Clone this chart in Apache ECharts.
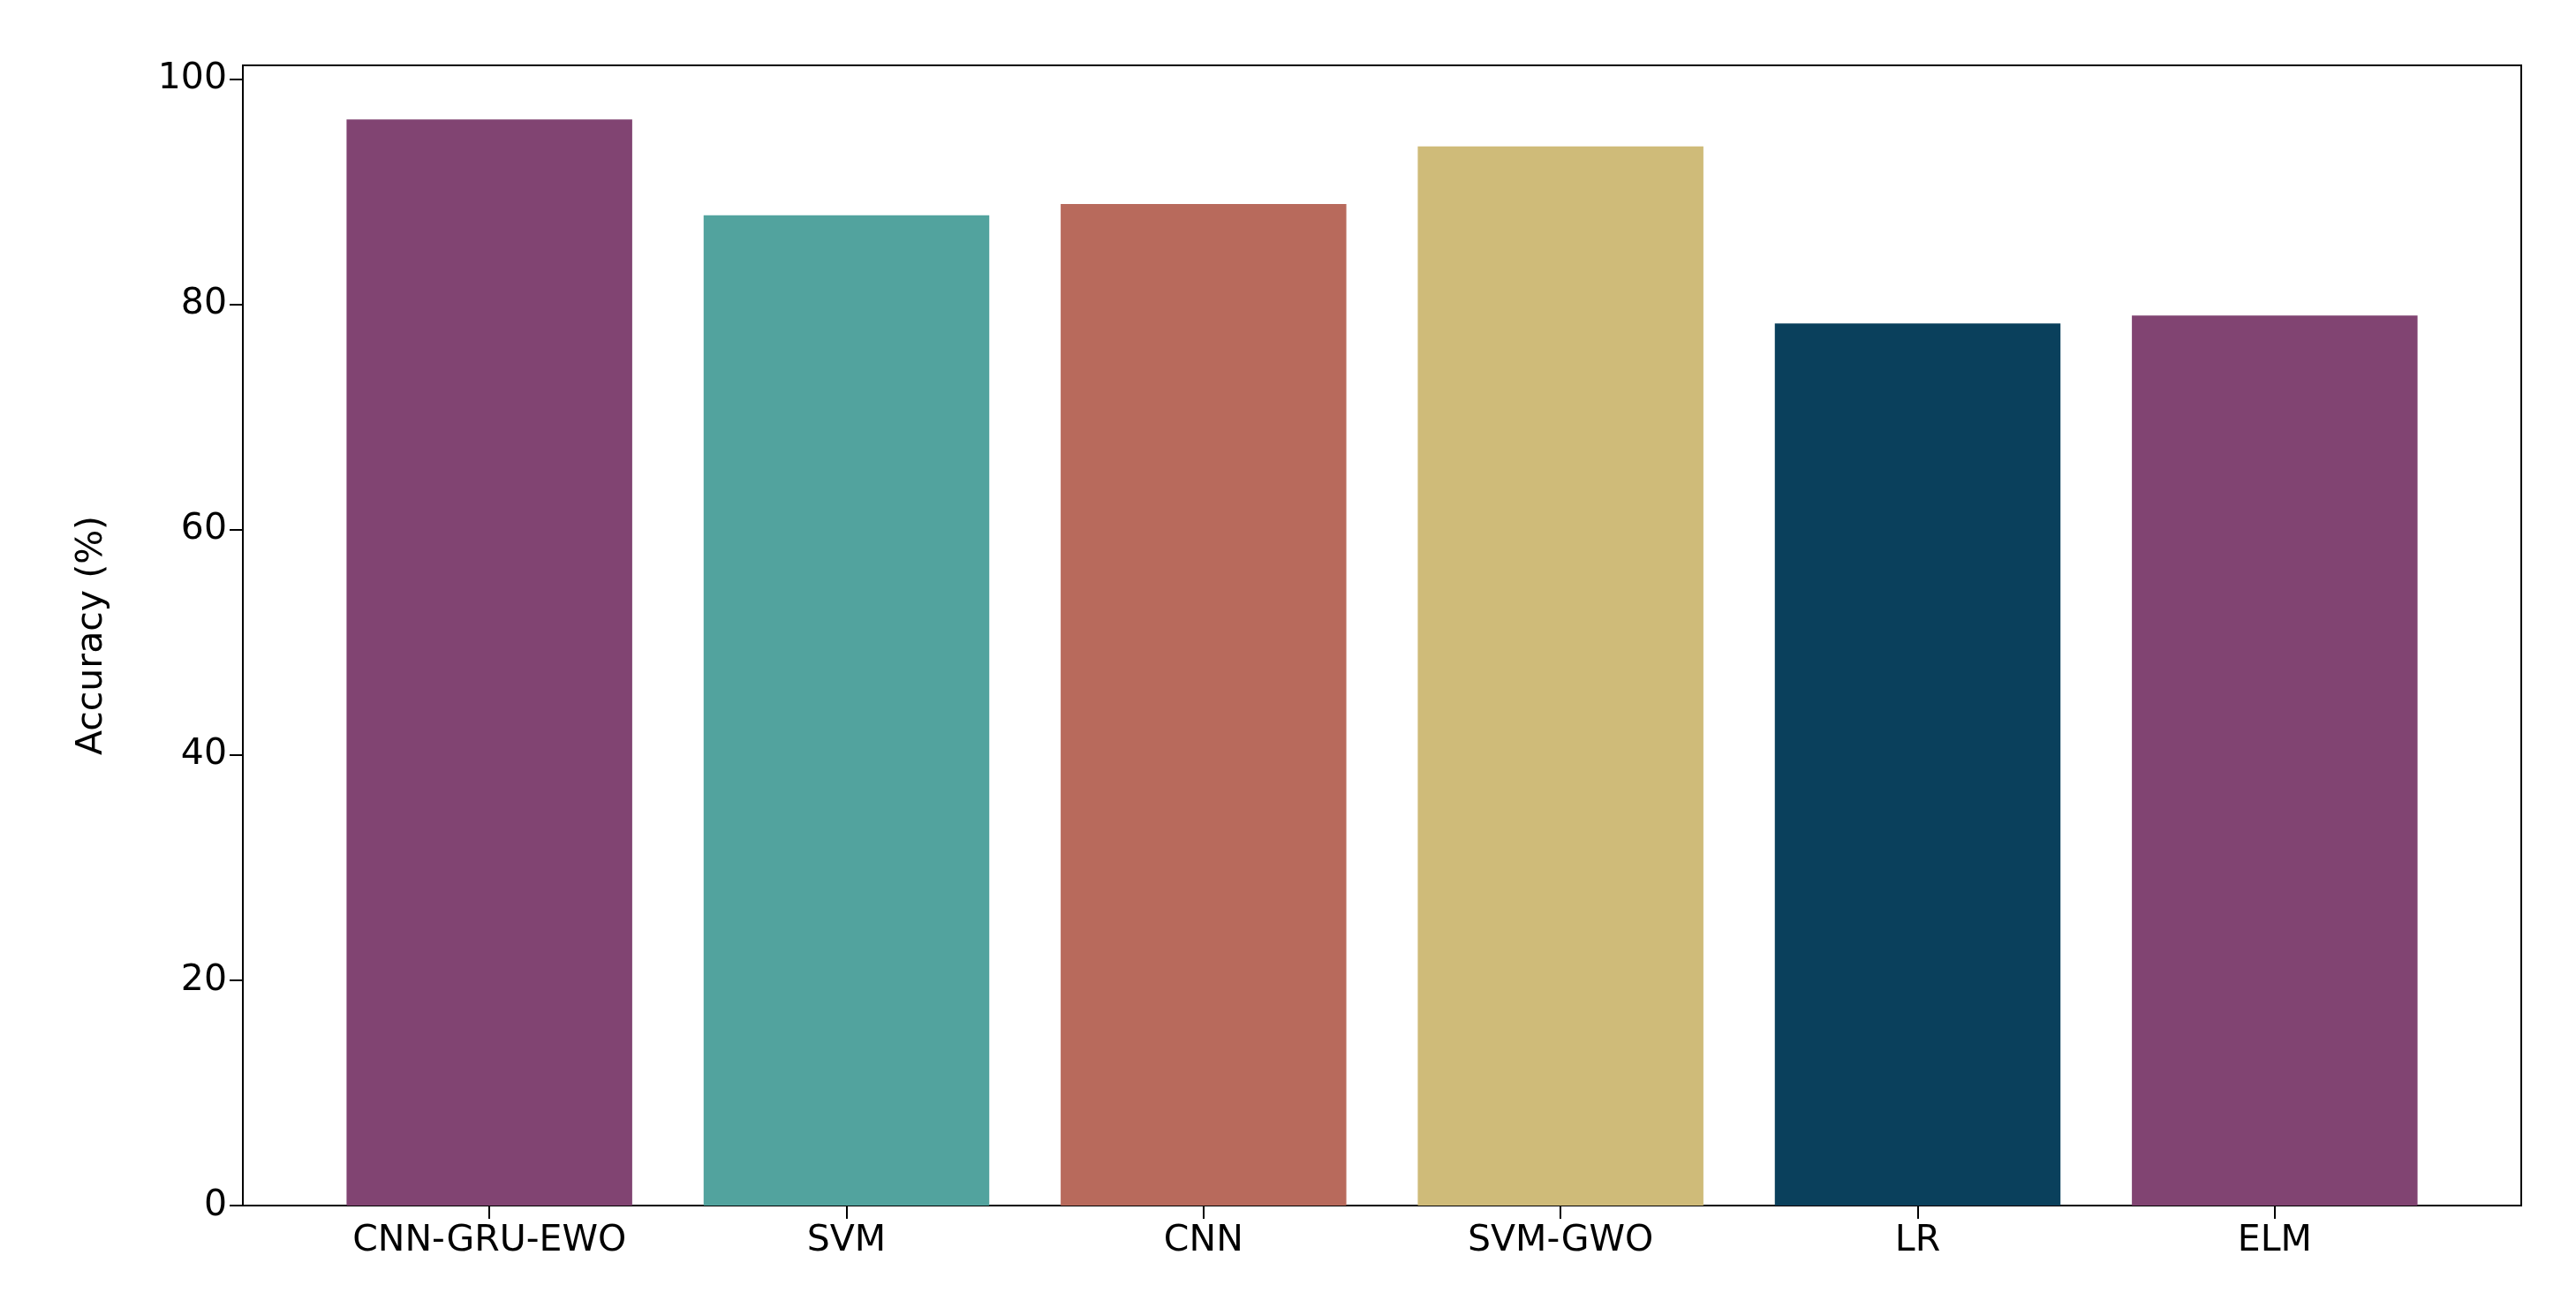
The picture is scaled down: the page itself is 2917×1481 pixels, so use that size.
<!DOCTYPE html>
<html>
<head>
<meta charset="utf-8">
<script src="https://cdn.jsdelivr.net/npm/echarts@6/dist/echarts.min.js"></script>
<style>html,body{margin:0;padding:0;background:#fff}#chart{width:2917px;height:1481px}</style>
</head>
<body>
<div id="chart"></div>
<script>
var categories = ['CNN-GRU-EWO', 'SVM', 'CNN', 'SVM-GWO', 'LR', 'ELM'];
var accuracy = [96.4, 87.9, 88.9, 94.0, 78.3, 79.0];
var barColors = ['#814472', '#52a39e', '#b86a5c', '#cfbb79', '#0a405c', '#814472'];

var font = 'DejaVu Sans';
var chart = echarts.init(document.getElementById('chart'));
chart.setOption({
    animation: false,
    grid: [
        // outer frame
        {left: 275, right: 62, top: 74, bottom: 116, show: true, borderColor: '#000', borderWidth: 2},
        // inner grid holding the bars (matplotlib margins)
        {left: 352, right: 139, top: 74, bottom: 116}
    ],
    xAxis: [
        {gridIndex: 0, type: 'value', min: 0, max: 1, show: false},
        {
            gridIndex: 1, type: 'category', data: categories,
            axisLine: {show: false},
            axisTick: {show: true, alignWithLabel: true, length: 15, lineStyle: {color: '#000', width: 2}},
            axisLabel: {color: '#000', fontFamily: font, fontSize: 41, margin: 20}
        }
    ],
    yAxis: [
        {
            gridIndex: 0, type: 'value', min: 0, max: 101.2, interval: 20,
            name: 'Accuracy (%)', nameLocation: 'middle', nameGap: 150,
            nameTextStyle: {color: '#000', fontFamily: font, fontSize: 41},
            splitLine: {show: false},
            axisLine: {show: true, lineStyle: {color: '#000', width: 2}},
            axisTick: {show: true, length: 15, lineStyle: {color: '#000', width: 2}},
            axisLabel: {color: '#000', fontFamily: font, fontSize: 41, margin: 18, showMaxLabel: false}
        },
        {gridIndex: 1, type: 'value', min: 0, max: 101.2, show: false}
    ],
    series: [{
        type: 'bar',
        xAxisIndex: 1,
        yAxisIndex: 1,
        barWidth: '80%',
        data: accuracy.map(function (v, i) {
            return {value: v, itemStyle: {color: barColors[i]}};
        })
    }]
});
</script>
</body>
</html>
